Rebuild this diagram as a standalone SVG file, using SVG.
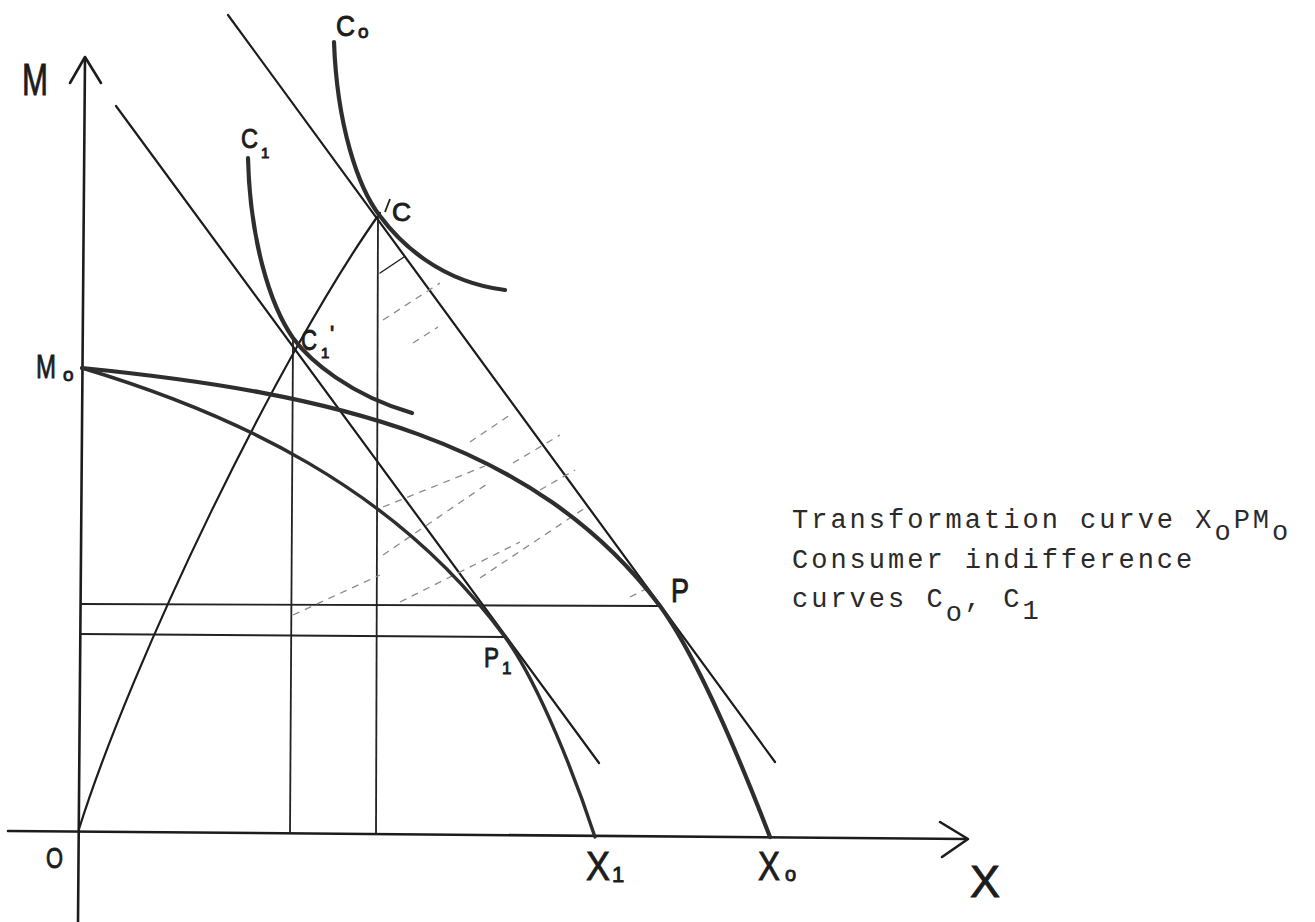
<svg xmlns="http://www.w3.org/2000/svg" width="1315" height="922" viewBox="0 0 1315 922">
<style>
.ax{stroke:#1c1c1c;stroke-width:2.6;fill:none;stroke-linecap:round;stroke-linejoin:round}
.ln{stroke:#1c1c1c;stroke-width:2.2;fill:none;stroke-linecap:round}
.thin{stroke:#222;stroke-width:1.8;fill:none}
.crv{stroke:#2e2e2e;stroke-width:4.2;fill:none;stroke-linecap:round}
.hat{stroke:#8a8a8a;stroke-width:1.3;fill:none;stroke-dasharray:7 6}
.hl{font-family:"Liberation Sans","DejaVu Sans",sans-serif;fill:#1c1c1c;stroke:#1c1c1c;stroke-width:0.9}
.tw{font-family:"Liberation Mono","DejaVu Sans Mono",monospace;font-size:27px;letter-spacing:3px;fill:#2a2a2a}
</style>
<rect width="1315" height="922" fill="#ffffff"/>

<g id="axes">
  <path class="ax" d="M78,922 L85,58"/>
  <path class="ax" d="M70,83 L85,57 L101,83"/>
  <path class="ax" d="M8,831 L967,839"/>
  <path class="ax" d="M940,822 L968,839 L942,857"/>
</g>

<g id="connectors">
  <path class="ln" d="M228,15 L775,762"/>
  <path class="ln" d="M116,106 L599,763"/>
  <path class="ln" d="M79,829 C132,660 280,353 380,213"/>
  <path class="thin" d="M293,340 L290,834"/>
  <path class="thin" d="M378,215 L376,835"/>
  <path class="thin" d="M80,604 L660,606"/>
  <path class="thin" d="M80,634 L505,637"/>
  <path class="thin" d="M385,212 L390,199"/>
</g>

<g id="hatching">
  <path class="hat" d="M293,615 L380,575"/>
  <path class="hat" d="M383,555 L490,482"/>
  <path class="hat" d="M400,602 L520,542"/>
  <path class="hat" d="M383,320 L440,283"/>
  <path class="ln" style="stroke-width:1.4" d="M380,273 L404,257"/>
  <path class="hat" d="M470,442 L510,415"/>
  <path class="hat" d="M513,463 L560,435"/>
  <path class="hat" d="M540,490 L575,470"/>
  <path class="hat" d="M480,578 L585,508"/>
  <path class="hat" d="M630,597 L646,589"/>
  <path class="hat" d="M413,343 L438,327"/>
  <path class="hat" d="M383,507 L485,466"/>
</g>

<g id="transformation-curve-outer">
  <path class="crv" d="M82,368 C332,393 535,440 660,606 C700,661 748,780 770,837"/>
</g>
<g id="transformation-curve-inner">
  <path class="crv" style="stroke-width:3.4" d="M82,368 C232,413 395,487 505,637 C540,685 577,782 595,837"/>
</g>
<g id="indifference-C0">
  <path class="crv" d="M334,42 C337,125 358,188 380,216 C400,243 440,282 505,290"/>
</g>
<g id="indifference-C1">
  <path class="crv" d="M248,158 C250,240 270,305 293,338 C310,361 350,395 412,413"/>
</g>

<g id="labels">
  <text class="hl" x="22" y="95" font-size="44" textLength="26" lengthAdjust="spacingAndGlyphs">M</text>
  <text class="hl" x="36" y="378" font-size="34" textLength="20" lengthAdjust="spacingAndGlyphs">M</text>
  <text class="hl" x="63" y="381" font-size="19">o</text>
  <text class="hl" x="46" y="868" font-size="30" textLength="17" lengthAdjust="spacingAndGlyphs">O</text>
  <text class="hl" x="970" y="897" font-size="44" textLength="30" lengthAdjust="spacingAndGlyphs">X</text>
  <text class="hl" x="586" y="880" font-size="40" textLength="24" lengthAdjust="spacingAndGlyphs">X</text>
  <text class="hl" x="612" y="882" font-size="22">1</text>
  <text class="hl" x="758" y="880" font-size="40" textLength="22" lengthAdjust="spacingAndGlyphs">X</text>
  <text class="hl" x="785" y="881" font-size="20">o</text>
  <text class="hl" x="671" y="602" font-size="33" textLength="18" lengthAdjust="spacingAndGlyphs">P</text>
  <text class="hl" x="484" y="667" font-size="27" textLength="15" lengthAdjust="spacingAndGlyphs">P</text>
  <text class="hl" x="502" y="674" font-size="17">1</text>
  <text class="hl" x="336" y="36" font-size="29" textLength="19" lengthAdjust="spacingAndGlyphs">C</text>
  <text class="hl" x="358" y="38" font-size="19">o</text>
  <text class="hl" x="241" y="148" font-size="27" textLength="17" lengthAdjust="spacingAndGlyphs">C</text>
  <text class="hl" x="261" y="158" font-size="15">1</text>
  <text class="hl" x="392" y="221" font-size="26" textLength="19" lengthAdjust="spacingAndGlyphs">C</text>
  <text class="hl" x="301" y="350" font-size="30" textLength="16" lengthAdjust="spacingAndGlyphs">C</text>
  <text class="hl" x="321" y="358" font-size="15">1</text>
  <text class="hl" x="330" y="341" font-size="22">'</text>
</g>

<g id="legend">
  <text class="tw" x="792" y="528">Transformation curve X<tspan dy="12">o</tspan><tspan dy="-12">PM</tspan><tspan dy="12">o</tspan></text>
  <text class="tw" x="792" y="568">Consumer indifference</text>
  <text class="tw" x="792" y="607">curves C<tspan dy="14">o</tspan><tspan dy="-14">, C</tspan><tspan dy="12">1</tspan></text>
</g>
</svg>
